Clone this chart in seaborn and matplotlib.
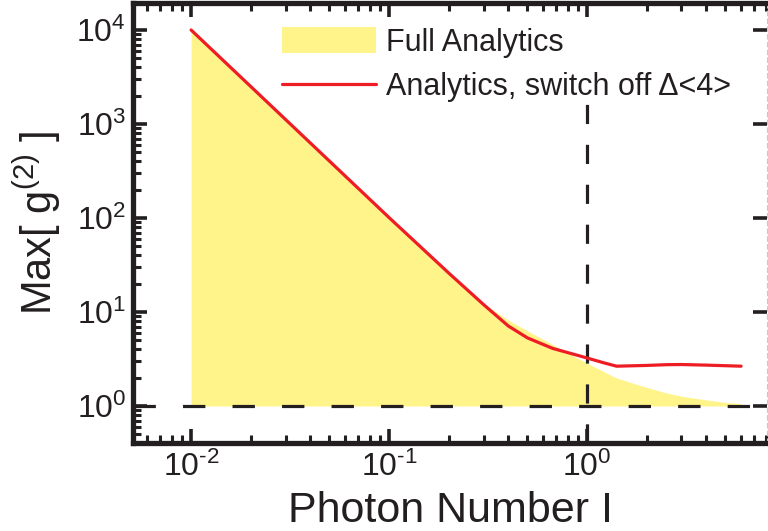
import numpy as np
import pandas as pd
import matplotlib
matplotlib.use("Agg")
import matplotlib.pyplot as plt
from matplotlib.ticker import LogLocator, FixedLocator, FixedFormatter, NullFormatter
import seaborn as sns

# Full analytic maximum of g2 versus photon number
full_I = [0.01, 0.02, 0.05, 0.1, 0.2, 0.3, 0.4, 0.5, 0.6, 0.7, 0.8, 0.9, 1.0,
          1.2, 1.4, 1.7, 2.0, 2.5, 3.0, 4.0, 5.0, 6.0]
full_g2 = [10000, 2550, 410, 103, 26.5, 12.3, 8.2, 6.3, 5.1, 4.3, 3.7, 3.2, 2.85,
           2.35, 2.0, 1.75, 1.58, 1.38, 1.27, 1.16, 1.09, 1.06]

# Analytic result with the switch-off term dropped
switch_I = [0.01, 0.1, 0.2, 0.3, 0.4, 0.5, 0.67, 1.0, 1.2, 1.41, 2.0, 2.53, 3.0, 4.0, 6.0]
switch_g2 = [10000, 101, 26, 12.0, 7.1, 5.3, 4.1, 3.24, 2.9, 2.65, 2.7, 2.75, 2.76, 2.72, 2.65]

x_ticks = [0.01, 0.1, 1.0]
x_tick_labels = ["$10^{\u20102}$", "$10^{\u20101}$", "$10^{0}$"]
y_ticks = [1, 10, 100, 1000, 10000]
y_tick_labels = ["$10^{0}$", "$10^{1}$", "$10^{2}$", "$10^{3}$", "$10^{4}$"]

label_full = "Full Analytics"
label_switch = "Analytics, switch off \u0394<4>"

sns.set_style("ticks")
plt.rcParams["font.family"] = ["Liberation Sans", "DejaVu Sans"]
plt.rcParams["mathtext.fontset"] = "custom"
plt.rcParams["mathtext.rm"] = "Liberation Sans"
plt.rcParams["mathtext.it"] = "Liberation Sans:italic"
plt.rcParams["mathtext.bf"] = "Liberation Sans:bold"

fig = plt.figure(figsize=(7.68, 5.31), dpi=100)
ax = fig.add_axes([0.1732, 0.1652, 0.8255, 0.8297])

yellow = "#FFF48A"
red = "#EE1D25"
ink = "#231F20"

ax.fill_between(full_I, 1, full_g2, color=yellow, linewidth=0, label=label_full, zorder=1)

df = pd.DataFrame({"I": switch_I, "g2": switch_g2})
sns.lineplot(data=df, x="I", y="g2", ax=ax, color=red, linewidth=2.3,
             label=label_switch, zorder=3, sort=False)

ax.set_xscale("log")
ax.set_yscale("log")
ax.set_xlim(0.00509, 8.11)
ax.set_ylim(0.401, 10 ** 4.29)

# reference lines at g2 = 1 and I = 1 (the vertical one stops below the legend)
ax.axhline(1, color=ink, linewidth=2.3, dashes=(7.0, 8.5), zorder=2)
ax.axvline(1, ymax=0.79, color=ink, linewidth=2.3, dashes=(6.0, 6.5), zorder=2)

ax.xaxis.set_major_locator(FixedLocator(x_ticks))
ax.xaxis.set_major_formatter(FixedFormatter(x_tick_labels))
ax.xaxis.set_minor_locator(LogLocator(base=10, subs=np.arange(2, 10), numticks=20))
ax.xaxis.set_minor_formatter(NullFormatter())
ax.yaxis.set_major_locator(FixedLocator(y_ticks))
ax.yaxis.set_major_formatter(FixedFormatter(y_tick_labels))
ax.yaxis.set_minor_locator(LogLocator(base=10, subs=np.arange(2, 10), numticks=20))
ax.yaxis.set_minor_formatter(NullFormatter())

ax.tick_params(axis="both", which="major", direction="in", length=10, width=2.6,
               labelsize=23, color=ink, labelcolor=ink)
ax.tick_params(axis="both", which="minor", direction="in", length=5.5, width=2.2,
               color=ink)
ax.tick_params(axis="x", which="both", top=True, pad=6)
ax.tick_params(axis="y", which="major", right=True, pad=5)
ax.tick_params(axis="y", which="minor", right=False)

for side in ["left", "bottom", "top"]:
    ax.spines[side].set_linewidth(3.8)
    ax.spines[side].set_color(ink)
ax.spines["right"].set_linewidth(0.8)
ax.spines["right"].set_color("#C8C8C8")
ax.spines["right"].set_linestyle((0, (4, 3)))

ax.set_xlabel("Photon Number I", fontsize=31, color=ink, labelpad=6)
ax.set_ylabel("Max[ g$^{(2)}$ ]", fontsize=30, color=ink, labelpad=10)

leg = ax.legend(loc="upper left", bbox_to_anchor=(0.22, 0.965), fontsize=22,
                frameon=False, handlelength=3.1, handleheight=0.9,
                handletextpad=0.33, labelspacing=0.48, borderpad=0.3,
                borderaxespad=0)
for t in leg.get_texts():
    t.set_color(ink)
leg.set_zorder(5)

fig.savefig("out.png", dpi=100)
